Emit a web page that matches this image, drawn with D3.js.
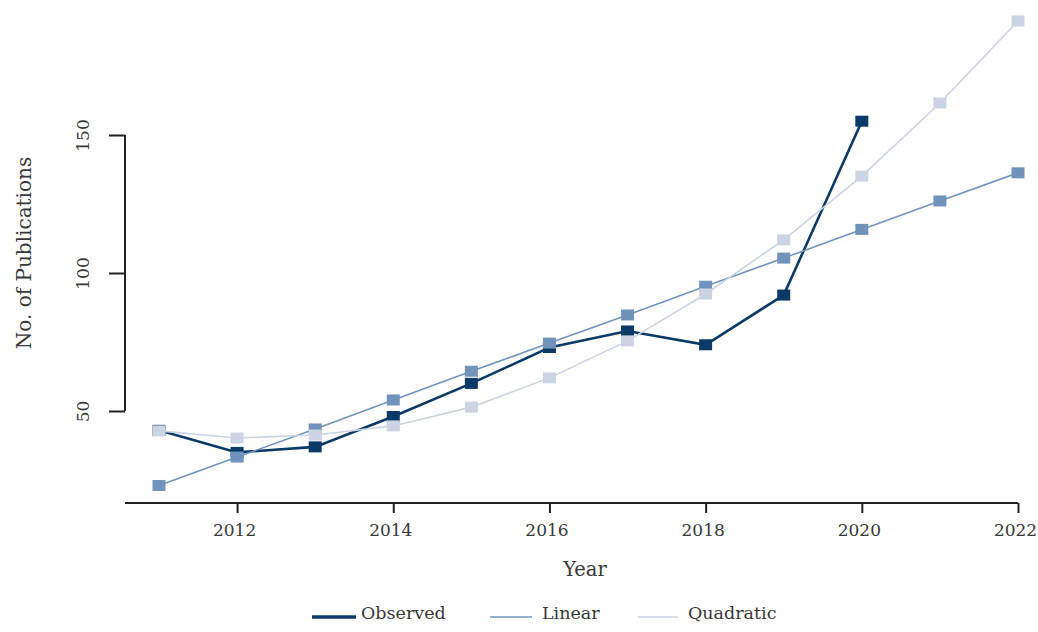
<!DOCTYPE html>
<html>
<head>
<meta charset="utf-8">
<script src="https://cdn.jsdelivr.net/npm/d3@7"></script>
<style>
  body { margin: 0; background: #fff; }
  svg text { font-family: "DejaVu Serif", "Liberation Serif", serif; fill: #383838; }
</style>
</head>
<body>
<svg id="chart" width="1038" height="632"></svg>
<script>
// values
const years = [2011, 2012, 2013, 2014, 2015, 2016, 2017, 2018, 2019, 2020, 2021, 2022];
const observed = [43, 35, 37, 48, 60, 73, 79, 74, 92, 155];
const linear = [23, 33.3, 43.5, 54, 64.4, 74.6, 84.8, 95.2, 105.4, 115.8, 126.1, 136.3];
const quadratic = [42.8, 40.2, 41.3, 44.6, 51.4, 62, 75.4, 92.4, 112, 135.1, 161.6, 191.3];
const xTicks = [2012, 2014, 2016, 2018, 2020, 2022];
const yTicks = [50, 100, 150];
const seriesNames = ["Observed", "Linear", "Quadratic"];

const colors = { Observed: "#0b3a68", Linear: "#7193bb", Quadratic: "#cbd4e3" };
const widths = { Observed: 2.6, Linear: 1.6, Quadratic: 1.6 };

const svg = d3.select("#chart");

const axisX = 125;   // left edge where the two axes meet
const axisY = 503;

const x = d3.scaleLinear().domain([2011, 2022]).range([159, 1018]);
const y = d3.scaleLinear().domain([50, 150]).range([411, 135]);

// x axis
const gx = svg.append("g")
  .attr("transform", `translate(0, ${axisY})`)
  .call(d3.axisBottom(x).tickValues(xTicks).tickFormat(d3.format("d")).tickSize(10).tickSizeOuter(0));
gx.select(".domain").remove();
gx.append("line")
  .attr("x1", axisX).attr("x2", x(2022))
  .attr("stroke", "#222").attr("stroke-width", 2);
gx.selectAll(".tick line").attr("stroke", "#222").attr("stroke-width", 2);
gx.selectAll(".tick text")
  .attr("y", 21)
  .attr("x", -3)
  .style("font-size", "17px")
  .style("fill", "#383838");

// y axis
const gy = svg.append("g")
  .attr("transform", `translate(${axisX}, 0)`)
  .call(d3.axisLeft(y).tickValues(yTicks).tickSize(16).tickSizeOuter(0));
gy.select(".domain").remove();
gy.append("line")
  .attr("y1", y(50)).attr("y2", y(150))
  .attr("stroke", "#222").attr("stroke-width", 2);
gy.selectAll(".tick line").attr("stroke", "#222").attr("stroke-width", 2);
gy.selectAll(".tick text")
  .attr("x", null).attr("dy", null)
  .attr("text-anchor", "middle")
  .attr("transform", "translate(-36, 0) rotate(-90)")
  .style("font-size", "17px")
  .style("fill", "#383838");

// axis titles
svg.append("text")
  .attr("x", 585).attr("y", 576)
  .attr("text-anchor", "middle")
  .style("font-size", "19.5px")
  .text("Year");

svg.append("text")
  .attr("transform", "translate(31, 253) rotate(-90)")
  .attr("text-anchor", "middle")
  .style("font-size", "20px")
  .text("No. of Publications");

// series
const seriesData = {
  Observed: observed.map((v, i) => ({ year: years[i], value: v })),
  Linear: linear.map((v, i) => ({ year: years[i], value: v })),
  Quadratic: quadratic.map((v, i) => ({ year: years[i], value: v }))
};

const line = d3.line().x((d) => x(d.year)).y((d) => y(d.value));

seriesNames.forEach((name) => {
  const g = svg.append("g").attr("class", "series");
  g.append("path")
    .datum(seriesData[name])
    .attr("d", line)
    .attr("fill", "none")
    .attr("stroke", colors[name])
    .attr("stroke-width", widths[name]);
  g.selectAll("rect")
    .data(seriesData[name])
    .enter()
    .append("rect")
    .attr("x", (d) => x(d.year) - 6.5)
    .attr("y", (d) => y(d.value) - 5.5)
    .attr("width", 13)
    .attr("height", 11)
    .attr("fill", colors[name]);
});

// legend
const legendItems = [
  { name: "Observed", x1: 312, x2: 356, tx: 361 },
  { name: "Linear", x1: 490, x2: 532, tx: 542 },
  { name: "Quadratic", x1: 638, x2: 678, tx: 688 }
];
const legend = svg.append("g").attr("transform", "translate(0, 617)");
legendItems.forEach((d) => {
  legend.append("line")
    .attr("x1", d.x1).attr("x2", d.x2)
    .attr("stroke", colors[d.name])
    .attr("stroke-width", d.name === "Observed" ? 3.5 : 1.6);
  legend.append("text")
    .attr("x", d.tx).attr("y", 0)
    .attr("dy", "0.1em")
    .style("font-size", "17.5px")
    .text(d.name);
});
</script>
</body>
</html>
